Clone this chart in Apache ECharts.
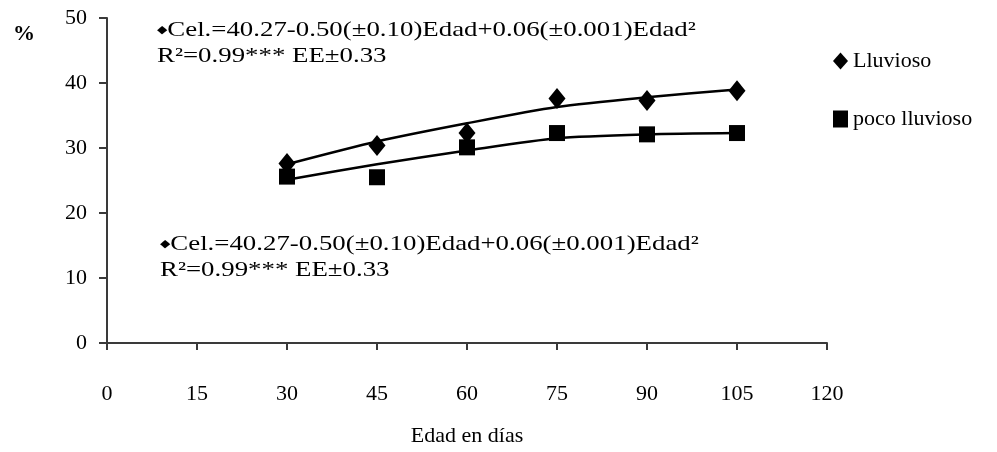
<!DOCTYPE html>
<html>
<head>
<meta charset="utf-8">
<script src="https://cdn.jsdelivr.net/npm/echarts@6/dist/echarts.min.js"></script>
<style>
  html, body { margin: 0; padding: 0; background: #fff; }
  #chart { width: 997px; height: 452px; }
</style>
</head>
<body>
<div id="chart"></div>
<script>
// Edad de corte (días)
const dias = [30, 45, 60, 75, 90, 105];
// Valores observados (%)
const lluvioso = [27.6, 30.4, 32.3, 37.6, 37.3, 38.8];
const pocoLluvioso = [25.6, 25.5, 30.1, 32.3, 32.1, 32.3];
// Curvas de ajuste cuadrático
const ajusteLluvioso = [27.5, 31.0, 33.8, 36.3, 37.8, 39.0];
const ajustePoco = [25.1, 27.5, 29.6, 31.5, 32.1, 32.3];
// Ticks
const xTicks = [0, 15, 30, 45, 60, 75, 90, 105, 120];
const yTicks = [0, 10, 20, 30, 40, 50];

const ecuacion1 = 'Cel.=40.27-0.50(±0.10)Edad+0.06(±0.001)Edad²';
const ecuacion2 = 'R²=0.99*** EE±0.33';

const pairs = (xs, ys) => xs.map((x, i) => [x, ys[i]]);

const serif = '"Liberation Serif", "Times New Roman", serif';
const axisColor = '#3a3a3a';

const chart = echarts.init(document.getElementById('chart'), null, { renderer: 'canvas' });

function eqText(x, y, line1, line2) {
  return [
    {
      type: 'text', x: x, y: y, scaleX: 1.22, silent: true,
      style: {
        text: '{d|◆}' + line1,
        font: '22px ' + serif, fill: '#000', verticalAlign: 'middle',
        rich: { d: { fontSize: 11, fontFamily: '"DejaVu Sans"', fill: '#000' } }
      }
    },
    {
      type: 'text', x: x, y: y + 26, scaleX: 1.22, silent: true,
      style: { text: line2, font: '22px ' + serif, fill: '#000', verticalAlign: 'middle' }
    }
  ];
}

chart.setOption({
  animation: false,
  backgroundColor: '#fff',
  grid: { left: 107, right: 170, top: 18, bottom: 98, containLabel: false },
  xAxis: {
    type: 'value', min: xTicks[0], max: xTicks[xTicks.length - 1], interval: 15,
    name: 'Edad en días', nameLocation: 'middle', nameGap: 82,
    nameTextStyle: { fontFamily: serif, fontSize: 22, color: '#000' },
    axisLine: { show: true, onZero: false, lineStyle: { color: axisColor, width: 2 } },
    axisTick: { show: true, length: 7, lineStyle: { color: axisColor, width: 2 } },
    axisLabel: { margin: 40, fontFamily: serif, fontSize: 22, color: '#000' },
    splitLine: { show: false }
  },
  yAxis: {
    type: 'value', min: yTicks[0], max: yTicks[yTicks.length - 1], interval: 10,
    axisLine: { show: true, onZero: false, lineStyle: { color: axisColor, width: 2 } },
    axisTick: { show: true, length: 8, lineStyle: { color: axisColor, width: 2 } },
    axisLabel: { margin: 20, fontFamily: serif, fontSize: 22, color: '#000' },
    splitLine: { show: false }
  },
  legend: {
    orient: 'vertical', left: 828, top: 45, itemGap: 36,
    itemWidth: 15, itemHeight: 17,
    textStyle: { fontFamily: serif, fontSize: 22, color: '#000' },
    data: [
      { name: 'Lluvioso', icon: 'diamond', itemStyle: { color: '#000', opacity: 1 } },
      { name: 'poco lluvioso', icon: 'rect', itemStyle: { color: '#000', opacity: 1 } }
    ]
  },
  graphic: [
    {
      type: 'text', x: 24, y: 34, silent: true,
      style: { text: '%', font: 'bold 22px ' + serif, fill: '#000', align: 'center', verticalAlign: 'middle' }
    },
    ...eqText(157, 30, ecuacion1, ecuacion2),
    ...eqText(160, 244, ecuacion1, ecuacion2)
  ],
  series: [
    {
      name: 'ajuste lluvioso', type: 'line', data: pairs(dias, ajusteLluvioso),
      smooth: 0.25, showSymbol: false, silent: true,
      lineStyle: { color: '#000', width: 2.5 }, z: 2
    },
    {
      name: 'ajuste poco lluvioso', type: 'line', data: pairs(dias, ajustePoco),
      smooth: 0.25, showSymbol: false, silent: true,
      lineStyle: { color: '#000', width: 2.5 }, z: 2
    },
    {
      name: 'Lluvioso', type: 'scatter', data: pairs(dias, lluvioso),
      symbol: 'diamond', symbolSize: [17, 21],
      itemStyle: { color: '#000', opacity: 1 }, z: 3
    },
    {
      name: 'poco lluvioso', type: 'scatter', data: pairs(dias, pocoLluvioso),
      symbol: 'rect', symbolSize: [16, 16],
      itemStyle: { color: '#000', opacity: 1 }, z: 3
    }
  ]
});
</script>
</body>
</html>
